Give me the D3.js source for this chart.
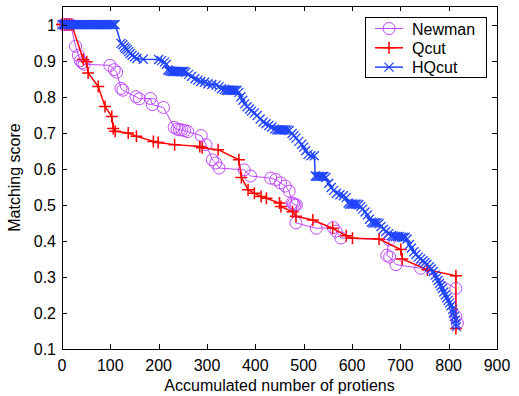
<!DOCTYPE html>
<html>
<head>
<meta charset="utf-8">
<script src="https://cdn.jsdelivr.net/npm/d3@7"></script>
<style>
  body { margin: 0; background: #fff; }
  svg { font-family: "Liberation Sans", Arial, sans-serif; }
</style>
</head>
<body>
<div id="chart"></div>
<script>
// Newman
const newmanX = [3, 8, 13, 18, 28, 34, 38, 42, 46, 99, 108, 113, 122, 126, 153, 160, 183, 187, 210, 232, 238, 243, 248, 254, 260, 288, 298, 311, 318, 325, 377, 390, 432, 442, 452, 462, 470, 476, 479, 482, 485, 484, 526, 561, 567, 577, 677, 672, 678, 691, 742, 815, 815, 818];
const newmanY = [1, 1, 1, 1, 0.94, 0.915, 0.9, 0.894, 0.89, 0.887, 0.875, 0.868, 0.823, 0.818, 0.8, 0.794, 0.795, 0.778, 0.77, 0.715, 0.71, 0.708, 0.708, 0.706, 0.703, 0.692, 0.667, 0.625, 0.616, 0.602, 0.597, 0.58, 0.574, 0.57, 0.561, 0.552, 0.538, 0.505, 0.503, 0.5, 0.5, 0.45, 0.435, 0.437, 0.427, 0.408, 0.403, 0.36, 0.355, 0.334, 0.324, 0.268, 0.19, 0.172];

// Qcut
const qcutX = [0, 5, 10, 15, 20, 44, 51, 54, 75, 89, 103, 106, 110, 137, 154, 189, 199, 233, 285, 290, 323, 366, 371, 385, 398, 412, 423, 450, 453, 477, 484, 519, 560, 588, 601, 656, 701, 704, 756, 815, 815];
const qcutY = [1, 1, 1, 1, 1, 0.903, 0.897, 0.866, 0.828, 0.773, 0.745, 0.712, 0.704, 0.699, 0.69, 0.676, 0.673, 0.667, 0.662, 0.658, 0.653, 0.625, 0.576, 0.542, 0.532, 0.523, 0.518, 0.505, 0.495, 0.481, 0.468, 0.458, 0.435, 0.414, 0.407, 0.405, 0.376, 0.35, 0.32, 0.303, 0.157];

// HQcut
const hqcutX = [0, 3, 5, 8, 10, 13, 15, 18, 20, 23, 26, 29, 32, 35, 38, 41, 44, 47, 50, 53, 56, 59, 62, 65, 68, 71, 74, 77, 80, 83, 86, 89, 92, 95, 98, 101, 104, 107, 110,
  122, 126, 129, 132, 135, 138, 141, 145, 150, 155, 168, 200, 206, 212, 216, 219, 222, 225, 228, 231, 234, 237, 240, 243, 246, 249, 252, 256, 262, 268, 275, 281, 287, 295, 302, 310, 319, 325, 330, 336, 340, 343, 346, 349, 352, 355, 358, 362, 366, 370, 374, 378, 383, 388, 392, 398, 404, 410, 416, 422, 428, 434, 440, 444, 447, 450, 453, 456, 459, 462, 466, 470, 476, 480, 484, 490, 496, 500, 504, 509, 515, 522,
  524, 527, 530, 533, 536, 539, 542, 546, 552, 557, 562, 568, 575, 582, 588, 592, 595, 598, 601, 604, 607, 610, 614, 618, 622, 627, 632, 636, 640, 643, 646, 649, 652, 656, 660, 665, 670, 676, 682, 686, 690, 694, 698, 702, 706, 710, 714, 719, 723, 728, 732, 737, 742, 747, 751, 755, 760, 764, 768, 772, 775, 778, 781, 784, 787, 790, 793, 796, 799, 802, 805, 808, 810, 812, 814, 815, 816];
const hqcutY = [1, 1, 1, 1, 1, 1, 1, 1, 1, 1, 1, 1, 1, 1, 1, 1, 1, 1, 1, 1, 1, 1, 1, 1, 1, 1, 1, 1, 1, 1, 1, 1, 1, 1, 1, 1, 1, 1, 1,
  0.948, 0.944, 0.938, 0.934, 0.93, 0.925, 0.92, 0.915, 0.91, 0.906, 0.904, 0.903, 0.9, 0.896, 0.89, 0.874, 0.872, 0.871, 0.87, 0.87, 0.87, 0.87, 0.87, 0.87, 0.87, 0.87, 0.87, 0.868, 0.862, 0.856, 0.85, 0.846, 0.842, 0.84, 0.836, 0.834, 0.832, 0.828, 0.822, 0.82, 0.818, 0.818, 0.818, 0.818, 0.818, 0.818, 0.818, 0.818, 0.812, 0.8, 0.79, 0.78, 0.772, 0.766, 0.76, 0.755, 0.748, 0.738, 0.73, 0.725, 0.72, 0.716, 0.71, 0.708, 0.708, 0.708, 0.708, 0.708, 0.708, 0.708, 0.708, 0.706, 0.698, 0.692, 0.685, 0.676, 0.668, 0.66, 0.65, 0.64, 0.636, 0.636,
  0.58, 0.579, 0.579, 0.579, 0.579, 0.579, 0.579, 0.576, 0.56, 0.548, 0.54, 0.532, 0.528, 0.525, 0.52, 0.505, 0.502, 0.502, 0.502, 0.502, 0.502, 0.502, 0.5, 0.495, 0.488, 0.48, 0.472, 0.46, 0.452, 0.45, 0.45, 0.45, 0.45, 0.448, 0.44, 0.432, 0.426, 0.42, 0.415, 0.413, 0.412, 0.412, 0.412, 0.41, 0.41, 0.41, 0.405, 0.39, 0.38, 0.37, 0.362, 0.355, 0.35, 0.345, 0.34, 0.335, 0.328, 0.322, 0.315, 0.305, 0.298, 0.29, 0.282, 0.275, 0.268, 0.258, 0.25, 0.242, 0.235, 0.228, 0.22, 0.21, 0.2, 0.19, 0.18, 0.17, 0.162];

const seriesNames = ["Newman", "Qcut", "HQcut"];
const xTicks = [0, 100, 200, 300, 400, 500, 600, 700, 800, 900];
const yTicks = [0.1, 0.2, 0.3, 0.4, 0.5, 0.6, 0.7, 0.8, 0.9, 1];
const xLabel = "Accumulated number of protiens";
const yLabel = "Matching score";

const width = 519, height = 396;
const margin = { top: 6, right: 22, bottom: 47, left: 62 };
const iw = width - margin.left - margin.right;
const ih = height - margin.top - margin.bottom;

const series = [
  { name: seriesNames[0], xs: newmanX, ys: newmanY, color: "#bf48ff", marker: "circle", lw: 1 },
  { name: seriesNames[1], xs: qcutX, ys: qcutY, color: "#ff0000", marker: "plus", lw: 1.5 },
  { name: seriesNames[2], xs: hqcutX, ys: hqcutY, color: "#1f44ff", marker: "cross", lw: 1.5 }
];

const x = d3.scaleLinear().domain([0, 900]).range([0, iw]);
const y = d3.scaleLinear().domain([0.1, 1.0516]).range([ih, 0]);

const svg = d3.select("#chart").append("svg")
  .attr("width", width)
  .attr("height", height);

const g = svg.append("g").attr("transform", `translate(${margin.left},${margin.top})`);

// markers
function drawMarker(sel, type, color) {
  if (type === "circle") {
    sel.append("circle").attr("r", 6).attr("fill", "none").attr("stroke", color).attr("stroke-width", 1);
  } else if (type === "plus") {
    sel.append("path").attr("d", "M-6,0H6M0,-6V6").attr("stroke", color).attr("stroke-width", 1.5);
  } else {
    sel.append("path").attr("d", "M-4.5,-4.5L4.5,4.5M-4.5,4.5L4.5,-4.5").attr("stroke", color).attr("stroke-width", 1.3);
  }
}

const line = d3.line().x(d => x(d[0])).y(d => y(d[1]));

series.forEach(s => {
  const pts = s.xs.map((v, i) => [v, s.ys[i]]);
  const sg = g.append("g");
  sg.append("path")
    .datum(pts)
    .attr("d", line)
    .attr("fill", "none")
    .attr("stroke", s.color)
    .attr("stroke-width", s.lw);
  sg.selectAll("g.m")
    .data(pts)
    .join("g")
    .attr("class", "m")
    .attr("transform", d => `translate(${x(d[0])},${y(d[1])})`)
    .each(function () { drawMarker(d3.select(this), s.marker, s.color); });
});

// axes with inside ticks on all sides
const tickLen = 5;
const axisG = g.append("g").attr("shape-rendering", "crispEdges");
axisG.append("rect")
  .attr("x", 0.5).attr("y", 0.5)
  .attr("width", iw).attr("height", ih)
  .attr("fill", "none").attr("stroke", "#000").attr("stroke-width", 1.2);

xTicks.forEach(t => {
  const px = Math.round(x(t)) + 0.5;
  axisG.append("line").attr("x1", px).attr("x2", px).attr("y1", ih).attr("y2", ih - tickLen).attr("stroke", "#000");
  axisG.append("line").attr("x1", px).attr("x2", px).attr("y1", 0).attr("y2", tickLen).attr("stroke", "#000");
});
yTicks.forEach(t => {
  const py = Math.round(y(t)) + 0.5;
  axisG.append("line").attr("x1", 0).attr("x2", tickLen).attr("y1", py).attr("y2", py).attr("stroke", "#000");
  axisG.append("line").attr("x1", iw).attr("x2", iw - tickLen).attr("y1", py).attr("y2", py).attr("stroke", "#000");
});

g.append("g").selectAll("text")
  .data(xTicks)
  .join("text")
  .attr("x", d => x(d))
  .attr("y", ih + 22)
  .attr("text-anchor", "middle")
  .attr("font-size", 16)
  .text(d => d);

g.append("g").selectAll("text")
  .data(yTicks)
  .join("text")
  .attr("x", -6)
  .attr("y", d => y(d) + 6)
  .attr("text-anchor", "end")
  .attr("font-size", 16)
  .text(d => d);

g.append("text")
  .attr("x", iw / 2)
  .attr("y", ih + 42)
  .attr("text-anchor", "middle")
  .attr("font-size", 16)
  .text(xLabel);

g.append("text")
  .attr("transform", `translate(${-42},${ih / 2}) rotate(-90)`)
  .attr("text-anchor", "middle")
  .attr("font-size", 16)
  .text(yLabel);

// legend
const lg = svg.append("g").attr("transform", "translate(365,17)");
lg.append("rect")
  .attr("x", 0.5).attr("y", 0.5)
  .attr("width", 121).attr("height", 60)
  .attr("fill", "#fff").attr("stroke", "#000").attr("stroke-width", 1.2)
  .attr("shape-rendering", "crispEdges");
series.forEach((s, i) => {
  const cy = 11.5 + i * 19.3;
  const row = lg.append("g");
  row.append("line").attr("x1", 10).attr("x2", 38).attr("y1", cy).attr("y2", cy)
    .attr("stroke", s.color).attr("stroke-width", s.lw);
  drawMarker(row.append("g").attr("transform", `translate(24,${cy})`), s.marker, s.color);
  row.append("text").attr("x", 47).attr("y", cy + 6).attr("font-size", 16).text(s.name);
});
</script>
</body>
</html>
